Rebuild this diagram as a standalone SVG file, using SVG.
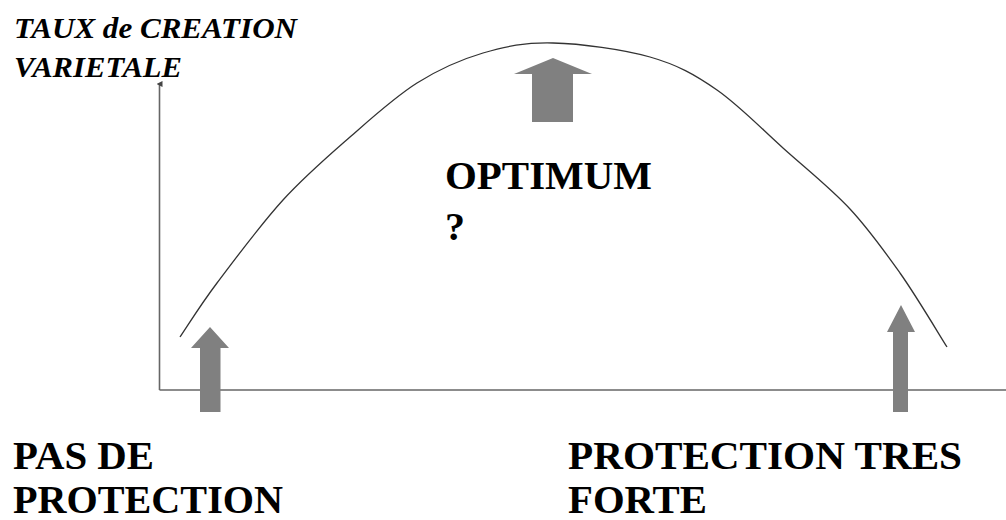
<svg xmlns="http://www.w3.org/2000/svg" width="1006" height="520" viewBox="0 0 1006 520">
<style>
.t{font-family:"Liberation Serif","Times New Roman","DejaVu Serif",serif;font-weight:bold;fill:#000}
.ti{font-style:italic;font-size:29px}
.big{font-size:41px}
.mid{font-size:40px}
.ax{stroke:#666;stroke-width:1.6;fill:none}
.ar{fill:#808080}
</style>
<defs>
<marker id="ah" markerWidth="6" markerHeight="6" refX="3" refY="3" orient="auto" markerUnits="userSpaceOnUse">
<path d="M0,6 L3,0 L6,6 Z" fill="#444"/>
</marker>
</defs>
<rect width="1006" height="520" fill="#fff"/>
<g id="title">
<text class="t ti" x="14" y="38" textLength="283" lengthAdjust="spacingAndGlyphs">TAUX de CREATION</text>
<text class="t ti" x="14" y="77" textLength="168" lengthAdjust="spacingAndGlyphs">VARIETALE</text>
</g>
<g id="connectors">
<line class="ax" x1="159.5" y1="390" x2="159.5" y2="84" marker-end="url(#ah)"/>
<line class="ax" x1="159.5" y1="390" x2="1006" y2="390"/>
<path id="curve" fill="none" stroke="#333" stroke-width="1.3" d="M180,337 C186.2,328 199.8,305.8 217,283 C234.2,260.2 260.8,224.3 283,200 C305.2,175.7 327.7,156.5 350,137 C372.3,117.5 394.8,97 417,83 C439.2,69 460.3,59.7 483,53 C505.7,46.3 525.2,42.3 553,43 C580.8,43.7 622.7,49.2 650,57 C677.3,64.8 694.8,74.5 717,90 C739.2,105.5 760.8,128 783,148 C805.2,168 830.5,188 850,209 C869.5,230 883.8,250.2 900,273 C916.2,295.8 939.2,334.7 947,347"/>
</g>
<g id="arrow-left">
<polygon class="ar" points="210,327 229,348 220.5,348 220.5,412 200,412 200,348 191,348"/>
</g>
<g id="arrow-top">
<polygon class="ar" points="553,58 592,74 573,74 573,122 532,122 532,74 514,74"/>
</g>
<g id="arrow-right">
<polygon class="ar" points="901,305 915,332 908,332 908,412 893,412 893,332 887,332"/>
</g>
<g id="optimum">
<text class="t mid" x="445" y="189" textLength="207" lengthAdjust="spacingAndGlyphs">OPTIMUM</text>
<text class="t mid" x="445" y="240">?</text>
</g>
<g id="label-left">
<text class="t big" x="13" y="469" textLength="141" lengthAdjust="spacingAndGlyphs">PAS DE</text>
<text class="t big" x="13" y="513" textLength="270" lengthAdjust="spacingAndGlyphs">PROTECTION</text>
</g>
<g id="label-right">
<text class="t big" x="568" y="469" textLength="394" lengthAdjust="spacingAndGlyphs">PROTECTION TRES</text>
<text class="t big" x="568" y="513" textLength="139" lengthAdjust="spacingAndGlyphs">FORTE</text>
</g>
</svg>
